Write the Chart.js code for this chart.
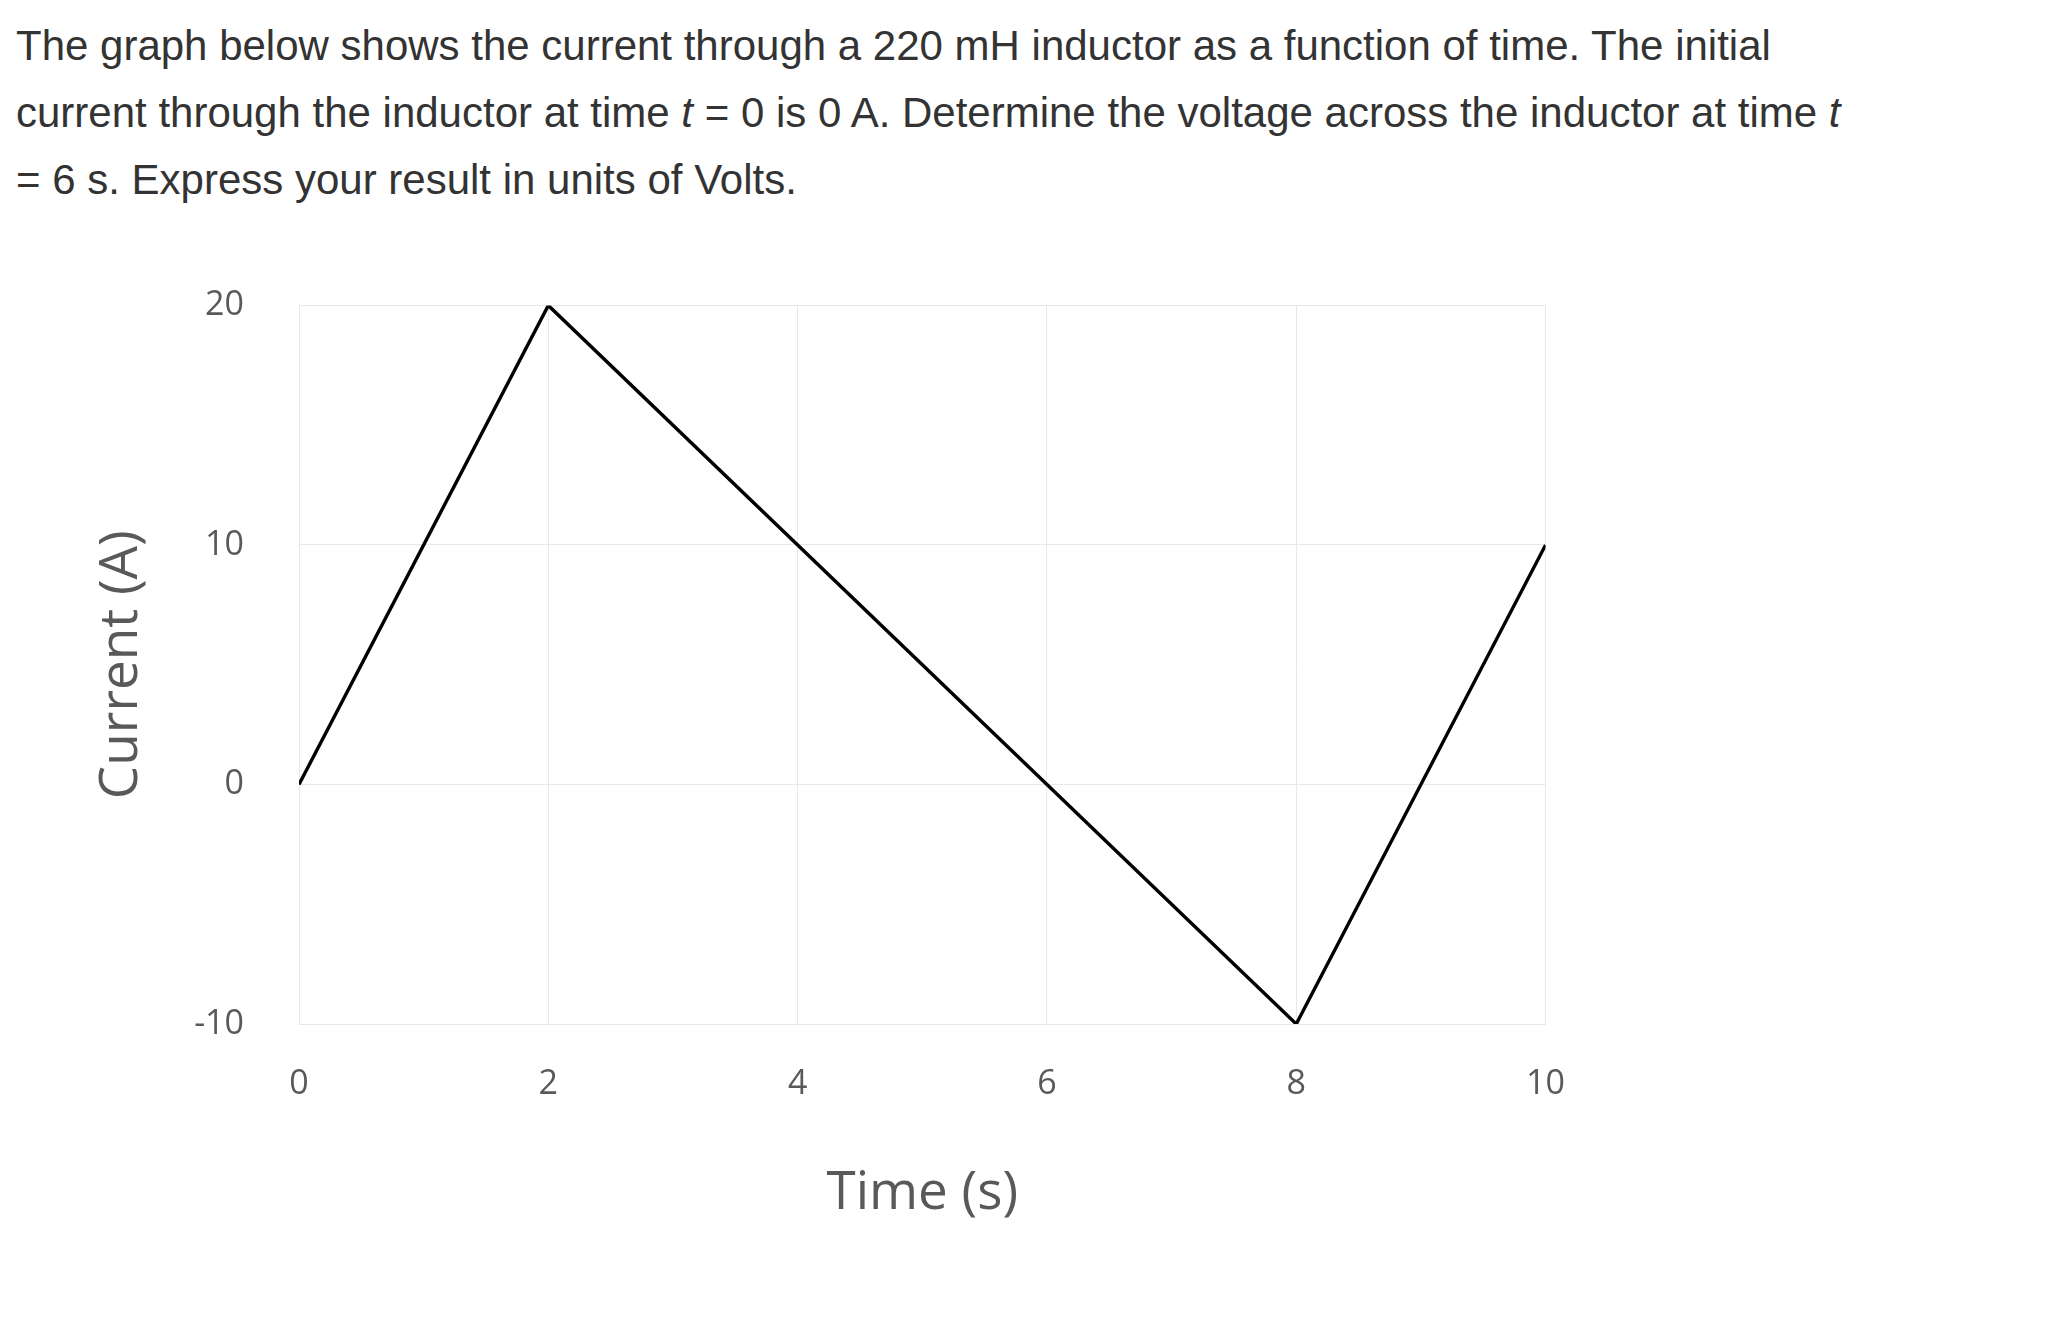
<!DOCTYPE html>
<html><head><meta charset="utf-8">
<script src="https://cdn.jsdelivr.net/npm/chart.js@4"></script>
<style>
body{margin:0;background:#fff;width:2046px;height:1324px;overflow:hidden;position:relative}
#q{position:absolute;left:16px;top:12px;width:2030px;white-space:nowrap;font-family:"Liberation Sans",Arial,sans-serif;font-size:42px;line-height:67px;color:#333}
#wrap{position:absolute;left:40px;top:230px;width:1565px;height:1002px}
</style></head><body>
<div id="q">The graph below shows the current through a 220 mH inductor as a function of time. The initial<br>current through the inductor at time <i>t</i> = 0 is 0 A. Determine the voltage across the inductor at time <i>t</i><br>= 6 s. Express your result in units of Volts.</div>
<div id="wrap"><canvas id="c"></canvas></div>
<script>
const times=[0,2,8,10];
const currents=[0,20,-10,10];
const xTicks=[0,2,4,6,8,10];
const yTicks=[-10,0,10,20];
const grey='#595959';
new Chart(document.getElementById('c'),{
 type:'scatter',
 data:{datasets:[{data:times.map((t,i)=>({x:t,y:currents[i]})),showLine:true,borderColor:'#000',borderWidth:3.4,pointRadius:0,tension:0}]},
 options:{responsive:true,maintainAspectRatio:false,animation:false,
  layout:{padding:{top:26,right:40,left:0,bottom:0}},
  plugins:{legend:{display:false},tooltip:{enabled:false}},
  scales:{
   x:{type:'linear',min:0,max:10,afterBuildTicks:a=>{a.ticks=xTicks.map(v=>({value:v}));},
      afterFit:s=>{s.height=208;},
      grid:{color:'#e8e8e8',drawTicks:false},border:{color:'#e8e8e8'},
      ticks:{padding:40,color:grey,font:{family:'Open Sans',size:34}},
      title:{display:true,text:'Time (s)',color:grey,font:{family:'Open Sans',size:53},padding:{top:0,bottom:6}}},
   y:{min:-10,max:20,afterBuildTicks:a=>{a.ticks=yTicks.map(v=>({value:v}));},
      afterFit:s=>{s.width=259;},
      grid:{color:'#e8e8e8',drawTicks:false},border:{color:'#e8e8e8'},
      ticks:{padding:55,color:grey,font:{family:'Open Sans',size:34}},
      title:{display:true,text:'Current (A)',color:grey,font:{family:'Open Sans',size:53},padding:{top:50,bottom:0}}}
  }}
});
</script></body></html>
